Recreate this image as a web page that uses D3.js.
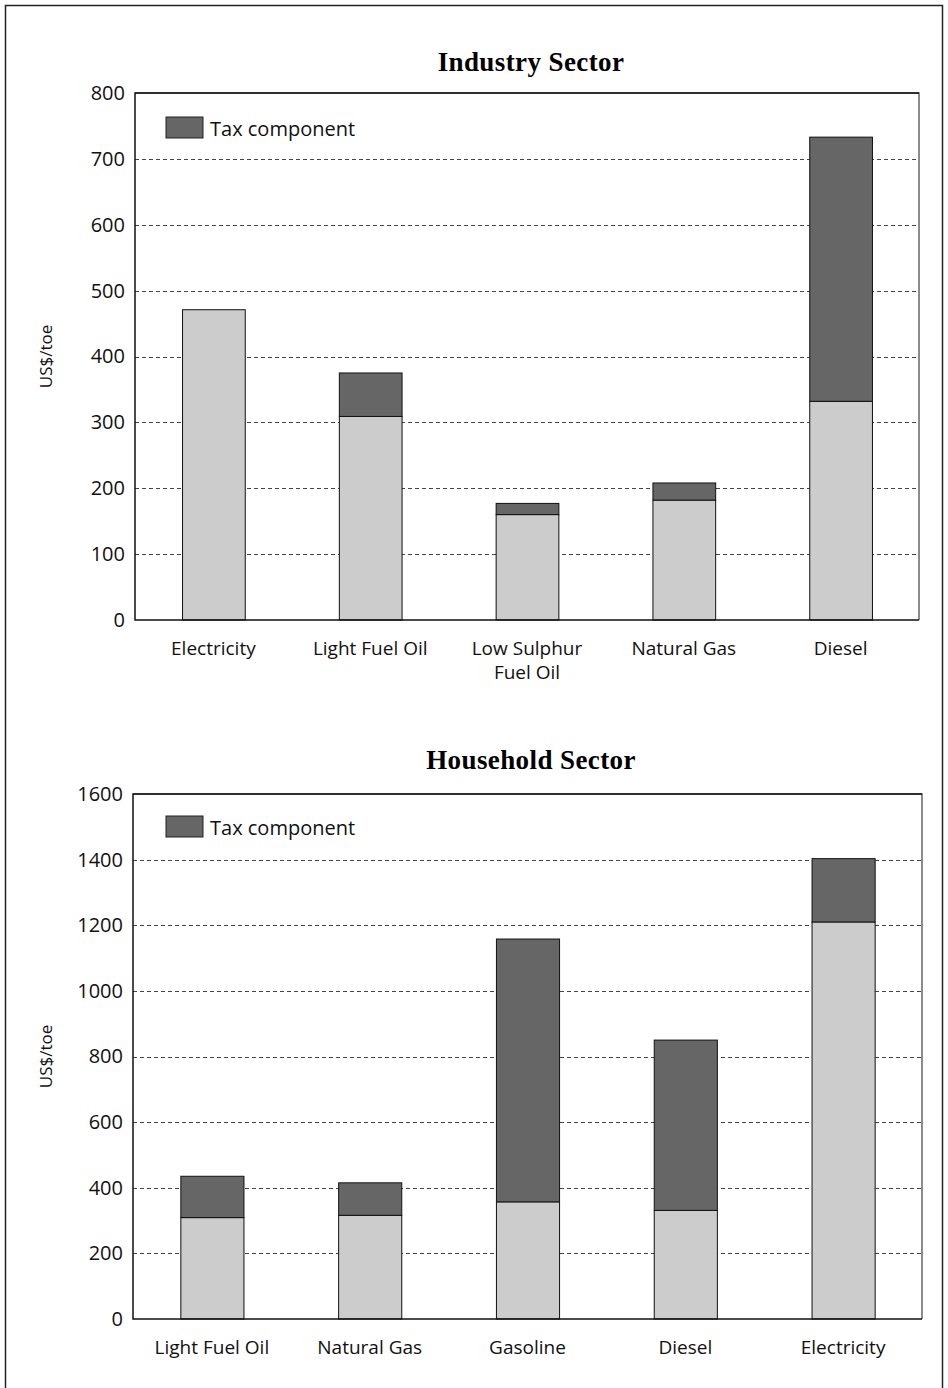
<!DOCTYPE html>
<html>
<head>
<meta charset="utf-8">
<script src="https://cdn.jsdelivr.net/npm/d3@7"></script>
<style>
  html, body { margin: 0; padding: 0; background: #fff; }
  svg { display: block; }
</style>
</head>
<body>
<script>
// Energy end-use prices, pre-tax price plus tax component (US$/toe)
const industryCategories = ["Electricity", "Light Fuel Oil", "Low Sulphur\nFuel Oil", "Natural Gas", "Diesel"];
const industryPreTax = [471, 309, 160, 182, 332];
const industryTax = [0, 66, 17, 26, 401];
const industryTicks = [0, 100, 200, 300, 400, 500, 600, 700, 800];

const householdCategories = ["Light Fuel Oil", "Natural Gas", "Gasoline", "Diesel", "Electricity"];
const householdPreTax = [309, 316, 357, 331, 1210];
const householdTax = [126, 99, 801, 519, 193];
const householdTicks = [0, 200, 400, 600, 800, 1000, 1200, 1400, 1600];

const legendLabel = "Tax component";
const axisLabel = "US$/toe";

const W = 948, H = 1388;
const sans = "'Open Sans', 'Liberation Sans', sans-serif";
const serif = "'Liberation Serif', 'DejaVu Serif', serif";
const baseColor = "#cccccc", taxColor = "#666666";

const svg = d3.select("body").append("svg")
  .attr("width", W).attr("height", H);

// outer frame
svg.append("rect")
  .attr("x", 5.5).attr("y", 5.5)
  .attr("width", 937).attr("height", H + 20)
  .attr("fill", "none").attr("stroke", "#222").attr("stroke-width", 1.5);

function drawPanel(opts) {
  const { title, titleY, categories, pre, tax, ticks, box, legendY } = opts;
  const g = svg.append("g");

  const x = d3.scaleBand()
    .domain(categories)
    .range([box.x0, box.x1])
    .paddingInner(0.6)
    .paddingOuter(0.3);
  const y = d3.scaleLinear()
    .domain([ticks[0], ticks[ticks.length - 1]])
    .range([box.y1, box.y0]);

  // title
  g.append("text")
    .attr("x", 531).attr("y", titleY)
    .attr("text-anchor", "middle")
    .attr("font-family", serif).attr("font-weight", "bold")
    .attr("font-size", 27).attr("letter-spacing", 0.4)
    .attr("fill", "#000")
    .text(title);

  // dashed gridlines
  g.append("g").selectAll("line")
    .data(ticks.slice(1, -1))
    .join("line")
    .attr("x1", box.x0).attr("x2", box.x1)
    .attr("y1", d => Math.round(y(d)) + 0.5).attr("y2", d => Math.round(y(d)) + 0.5)
    .attr("stroke", "#444").attr("stroke-width", 1)
    .attr("stroke-dasharray", "4,3");

  // y axis tick labels
  const yAxis = d3.axisLeft(y).tickValues(ticks).tickSize(0).tickPadding(10)
    .tickFormat(d3.format("d"));
  const ya = g.append("g").attr("transform", `translate(${box.x0},0)`).call(yAxis);
  ya.select(".domain").remove();
  ya.selectAll("text")
    .attr("font-family", sans).attr("font-size", 20).attr("fill", "#111");

  // y axis title
  g.append("text")
    .attr("transform", `translate(52,${(box.y0 + box.y1) / 2}) rotate(-90)`)
    .attr("text-anchor", "middle")
    .attr("font-family", sans).attr("font-size", 17).attr("fill", "#111")
    .text(axisLabel);

  // stacked bars: pre-tax price with tax component on top
  const bars = g.append("g").selectAll("g")
    .data(categories.map((c, i) => ({ c, pre: pre[i], tax: tax[i] })))
    .join("g");
  bars.append("rect")
    .attr("x", d => x(d.c) + 0.5)
    .attr("width", x.bandwidth())
    .attr("y", d => y(d.pre))
    .attr("height", d => y(0) - y(d.pre))
    .attr("fill", baseColor).attr("stroke", "#111").attr("stroke-width", 1);
  bars.filter(d => d.tax > 0).append("rect")
    .attr("x", d => x(d.c) + 0.5)
    .attr("width", x.bandwidth())
    .attr("y", d => y(d.pre + d.tax))
    .attr("height", d => y(d.pre) - y(d.pre + d.tax))
    .attr("fill", taxColor).attr("stroke", "#111").attr("stroke-width", 1);

  // plot frame
  g.append("path")
    .attr("d", `M${box.x0},${box.y0}H${box.x1}V${box.y1}`)
    .attr("fill", "none").attr("stroke", "#666").attr("stroke-width", 1.5);
  g.append("path")
    .attr("d", `M${box.x1},${box.y0}H${box.x0}V${box.y1}H${box.x1}`)
    .attr("fill", "none").attr("stroke", "#111").attr("stroke-width", 1.5);

  // category labels
  const xa = g.append("g").selectAll("text")
    .data(categories)
    .join("text")
    .attr("x", d => x(d) + x.bandwidth() / 2)
    .attr("y", box.y1 + 35)
    .attr("text-anchor", "middle")
    .attr("font-family", sans).attr("font-size", 19).attr("fill", "#111");
  xa.each(function (d) {
    const lines = d.split("\n");
    d3.select(this).selectAll("tspan")
      .data(lines).join("tspan")
      .attr("x", x(d) + x.bandwidth() / 2)
      .attr("dy", (l, i) => i === 0 ? 0 : 24)
      .text(l => l);
  });

  // legend
  g.append("rect")
    .attr("x", 166).attr("y", legendY)
    .attr("width", 37).attr("height", 21)
    .attr("fill", taxColor).attr("stroke", "#222").attr("stroke-width", 1);
  g.append("text")
    .attr("x", 210).attr("y", legendY + 19)
    .attr("font-family", sans).attr("font-size", 20).attr("fill", "#111")
    .text(legendLabel);
}

drawPanel({
  title: "Industry Sector", titleY: 71,
  categories: industryCategories, pre: industryPreTax, tax: industryTax,
  ticks: industryTicks,
  box: { x0: 135, x1: 919, y0: 93, y1: 620 },
  legendY: 117
});

drawPanel({
  title: "Household Sector", titleY: 769,
  categories: householdCategories, pre: householdPreTax, tax: householdTax,
  ticks: householdTicks,
  box: { x0: 133, x1: 922, y0: 794, y1: 1319 },
  legendY: 816
});
</script>
</body>
</html>
